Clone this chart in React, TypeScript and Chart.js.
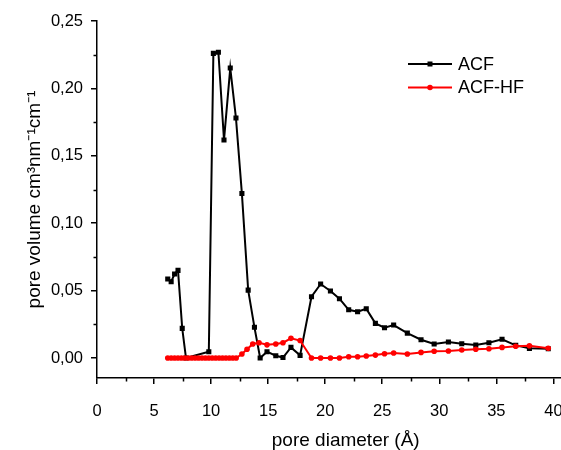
import React, { useEffect, useRef } from "react";
import { Chart, registerables } from "chart.js";

Chart.register(...registerables);

// ACF series
const acfX = [6.2, 6.5, 6.8, 7.1, 7.47, 7.8, 9.8, 10.2, 10.64, 11.13, 11.68, 12.18, 12.7, 13.25, 13.8, 14.3, 14.9, 15.67, 16.3, 17.0, 17.8, 18.8, 19.6, 20.46, 21.25, 22.06, 22.84, 23.6, 24.4, 25.2, 26.0, 27.2, 28.4, 29.55, 30.8, 31.97, 33.2, 34.35, 35.5, 36.7, 37.9, 39.55];
const acfY = [0.0586, 0.0566, 0.0623, 0.065, 0.022, 0.0, 0.0047, 0.226, 0.2268, 0.1617, 0.2151, 0.178, 0.122, 0.0504, 0.0228, 0.0, 0.0047, 0.0017, 0.0004, 0.0079, 0.002, 0.0455, 0.0549, 0.0497, 0.044, 0.0358, 0.0343, 0.0366, 0.0257, 0.0225, 0.0245, 0.0185, 0.0136, 0.0104, 0.0119, 0.0106, 0.0096, 0.0113, 0.0139, 0.0094, 0.0072, 0.0069];

// ACF-HF series
const hfX = [6.2, 6.5, 6.8, 7.1, 7.4, 7.7, 8.0, 8.3, 8.6, 8.9, 9.2, 9.5, 9.8, 10.1, 10.4, 10.7, 11.0, 11.3, 11.6, 11.9, 12.2, 12.7, 13.15, 13.65, 14.2, 14.9, 15.67, 16.3, 17.0, 17.8, 18.8, 19.6, 20.46, 21.25, 22.06, 22.84, 23.6, 24.4, 25.2, 26.0, 27.2, 28.4, 29.55, 30.8, 31.97, 33.2, 34.35, 35.5, 36.7, 37.9, 39.55];
const hfY = [0, 0, 0, 0, 0, 0, 0, 0, 0, 0, 0, 0, 0, 0, 0, 0, 0, 0, 0, 0, 0, 0.003, 0.0065, 0.0104, 0.0114, 0.0098, 0.0104, 0.0114, 0.0146, 0.013, 0.0, 0.0, 0.0, 0.0, 0.001, 0.001, 0.0015, 0.0022, 0.0032, 0.0037, 0.003, 0.0042, 0.005, 0.0052, 0.006, 0.0065, 0.0069, 0.0079, 0.0087, 0.0091, 0.0072];

const seriesLabels = ["ACF", "ACF-HF"];
const seriesColors = ["#000000", "#ff0000"];

const xTickValues = [0, 2.5, 5, 7.5, 10, 12.5, 15, 17.5, 20, 22.5, 25, 27.5, 30, 32.5, 35, 37.5, 40, 42.5];
const yTickValues = [0, 0.025, 0.05, 0.075, 0.1, 0.125, 0.15, 0.175, 0.2, 0.225, 0.25];

const FONT = "'Liberation Sans', Arial, sans-serif";

const isMajorX = (v: number) => Math.abs(v / 5 - Math.round(v / 5)) < 1e-6;
const isMajorY = (v: number) => Math.abs(v / 0.05 - Math.round(v / 0.05)) < 1e-6;

const minorTicksPlugin = {
  id: "minorTicks",
  afterDraw(chart: any) {
    const ctx = chart.ctx;
    const xs = chart.scales.x;
    const ys = chart.scales.y;
    ctx.save();
    ctx.strokeStyle = "#000";
    ctx.lineWidth = 1.5;
    ctx.beginPath();
    ys.ticks.forEach((t: any) => {
      if (!isMajorY(t.value)) {
        const p = Math.round(ys.getPixelForValue(t.value)) + 0.5;
        ctx.moveTo(ys.right, p);
        ctx.lineTo(ys.right - 3.5, p);
      }
    });
    xs.ticks.forEach((t: any) => {
      if (!isMajorX(t.value)) {
        const p = Math.round(xs.getPixelForValue(t.value)) + 0.5;
        ctx.moveTo(p, xs.top);
        ctx.lineTo(p, xs.top + 3.5);
      }
    });
    ctx.stroke();
    ctx.restore();
  },
};

const legendPlugin = {
  id: "customLegend",
  afterDraw(chart: any) {
    const ctx = chart.ctx;
    ctx.save();
    chart.data.datasets.forEach((ds: any, i: number) => {
      const y = 64 + i * 23.5;
      ctx.strokeStyle = ds.borderColor;
      ctx.fillStyle = ds.borderColor;
      ctx.lineWidth = 2;
      ctx.beginPath();
      ctx.moveTo(408, y);
      ctx.lineTo(452, y);
      ctx.stroke();
      ctx.beginPath();
      if (ds.pointStyle === "rect") {
        ctx.rect(430 - 2.5, y - 2.5, 5, 5);
      } else {
        ctx.arc(430, y, 2.8, 0, Math.PI * 2);
      }
      ctx.fill();
      ctx.font = `18px ${FONT}`;
      ctx.textBaseline = "middle";
      ctx.textAlign = "left";
      ctx.fillStyle = "#000";
      ctx.fillText(ds.label, 458, y + 1);
    });
    ctx.restore();
  },
};

export default function App() {
  const canvasRef = useRef<HTMLCanvasElement | null>(null);

  useEffect(() => {
    if (!canvasRef.current) return;
    const chart = new Chart(canvasRef.current, {
      type: "line",
      data: {
        datasets: [
          {
            label: seriesLabels[0],
            data: acfX.map((x, i) => ({ x, y: acfY[i] })),
            borderColor: seriesColors[0],
            backgroundColor: seriesColors[0],
            pointBackgroundColor: seriesColors[0],
            pointBorderColor: seriesColors[0],
            borderWidth: 2,
            pointStyle: "rect",
            pointRadius: 3.6,
            pointBorderWidth: 0,
            tension: 0,
            order: 1,
          },
          {
            label: seriesLabels[1],
            data: hfX.map((x, i) => ({ x, y: hfY[i] })),
            borderColor: seriesColors[1],
            backgroundColor: seriesColors[1],
            pointBackgroundColor: seriesColors[1],
            pointBorderColor: seriesColors[1],
            borderWidth: 2,
            pointStyle: "circle",
            pointRadius: 2.8,
            pointBorderWidth: 0,
            tension: 0,
            order: 0,
          },
        ],
      },
      options: {
        animation: false,
        responsive: false,
        maintainAspectRatio: false,
        layout: { padding: { left: 0, top: 21, right: 3, bottom: 0 } },
        plugins: {
          legend: { display: false },
          tooltip: { enabled: false },
        },
        scales: {
          x: {
            type: "linear",
            min: 0,
            max: 43.6,
            afterFit: (s: any) => {
              s.height = 72;
            },
            afterBuildTicks: (s: any) => {
              s.ticks = xTickValues.map((v) => ({ value: v }));
            },
            border: { display: true, color: "#000", width: 1.5 },
            grid: {
              display: true,
              drawOnChartArea: false,
              drawTicks: true,
              tickLength: 6,
              lineWidth: 1.5,
              color: (c: any) => (c.tick && isMajorX(c.tick.value) ? "#000" : "rgba(0,0,0,0)"),
            },
            ticks: {
              autoSkip: false,
              maxRotation: 0,
              padding: 18,
              color: "#000",
              font: { family: FONT, size: 16.5 },
              callback: (v: any) => (isMajorX(Number(v)) ? String(Math.round(Number(v))) : ""),
            },
            title: {
              display: true,
              text: "pore diameter (Å)",
              color: "#000",
              font: { family: FONT, size: 19, lineHeight: 1 },
              padding: { top: 0, bottom: 0 },
            },
          },
          y: {
            type: "linear",
            min: -0.0148,
            max: 0.25,
            afterFit: (s: any) => {
              s.width = 97;
            },
            afterBuildTicks: (s: any) => {
              s.ticks = yTickValues.map((v) => ({ value: v }));
            },
            border: { display: true, color: "#000", width: 1.5 },
            grid: {
              display: true,
              drawOnChartArea: false,
              drawTicks: true,
              tickLength: 6,
              lineWidth: 1.5,
              color: (c: any) => (c.tick && isMajorY(c.tick.value) ? "#000" : "rgba(0,0,0,0)"),
            },
            ticks: {
              autoSkip: false,
              padding: 8,
              color: "#000",
              font: { family: FONT, size: 16.5 },
              callback: (v: any) => (isMajorY(Number(v)) ? Number(v).toFixed(2).replace(".", ",") : ""),
            },
            title: {
              display: true,
              text: "pore volume cm³nm⁻¹cm⁻¹",
              color: "#000",
              font: { family: FONT, size: 19, lineHeight: 1 },
              padding: { top: 25, bottom: 0 },
            },
          },
        },
      },
      plugins: [minorTicksPlugin, legendPlugin],
    });
    return () => chart.destroy();
  }, []);

  return (
    <div style={{ position: "fixed", left: 0, top: 0, width: 561, height: 450, overflow: "hidden", background: "#fff" }}>
      <canvas ref={canvasRef} width={600} height={450} style={{ width: 600, height: 450, display: "block" }} />
    </div>
  );
}
